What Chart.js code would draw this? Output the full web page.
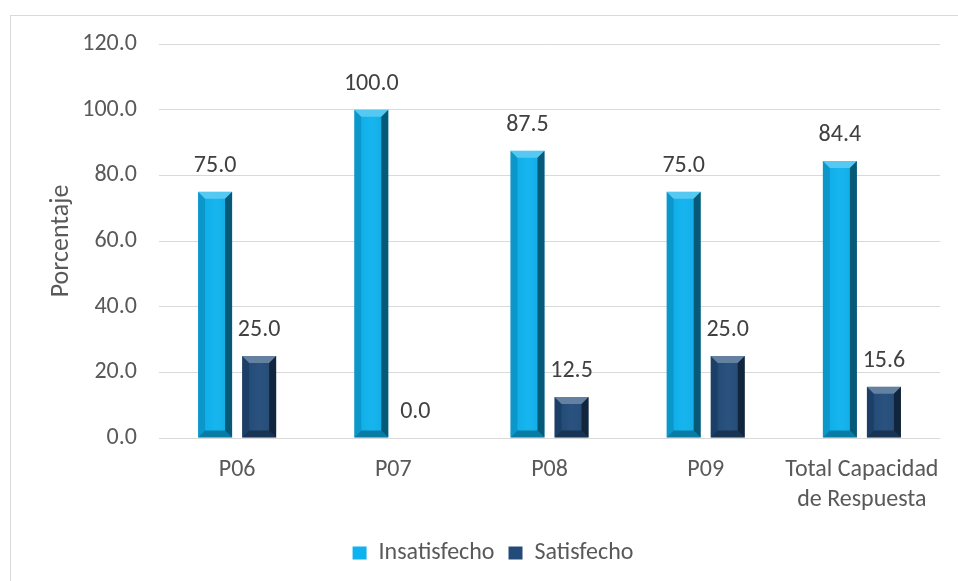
<!DOCTYPE html>
<html>
<head>
<meta charset="utf-8">
<script src="https://cdn.jsdelivr.net/npm/chart.js@4.4.1/dist/chart.umd.min.js"></script>
<style>
    html, body { margin: 0; padding: 0; background: #fff; }
    #wrap { position: relative; width: 958px; height: 581px; overflow: hidden; }
    #frame { position: absolute; left: 10px; top: 15px; width: 980px; height: 600px; border: 1px solid #d9d9d9; }
    canvas { position: absolute; left: 0; top: 0; }
</style>
</head>
<body>
<div id="wrap">
    <div id="frame"></div>
    <canvas id="chart" width="958" height="581"></canvas>
</div>
<script>
// Données du graphique
const categories = ['P06', 'P07', 'P08', 'P09', ['Total Capacidad', 'de Respuesta']];
const insatisfecho = [75.0, 100.0, 87.5, 75.0, 84.4];
const satisfecho = [25.0, 0.0, 12.5, 25.0, 15.6];
const yTicks = [0, 20, 40, 60, 80, 100, 120];

const FONT = 'Carlito, Calibri, "Open Sans", sans-serif';
const TEXT = '#595959';

// Effet biseauté sur les barres
const bevelPlugin = {
    id: 'bevel',
    afterDatasetsDraw(chart) {
        const ctx = chart.ctx;
        chart.data.datasets.forEach((ds, i) => {
            chart.getDatasetMeta(i).data.forEach(bar => {
                const l = bar.x - bar.width / 2;
                const r = bar.x + bar.width / 2;
                const t = Math.min(bar.y, bar.base);
                const b = Math.max(bar.y, bar.base);
                if (b - t < 2) return;
                const s = Math.min(7, (b - t) / 2);
                ctx.save();
                // face
                const g = ctx.createLinearGradient(l, 0, r, 0);
                g.addColorStop(0, 'rgba(0,0,0,0.04)');
                g.addColorStop(0.5, 'rgba(255,255,255,0.04)');
                g.addColorStop(1, 'rgba(0,0,0,0.08)');
                ctx.fillStyle = g;
                ctx.fillRect(l + s, t + s, r - l - 2 * s, b - t - 2 * s);
                // haut
                ctx.fillStyle = 'rgba(255,255,255,0.3)';
                ctx.beginPath();
                ctx.moveTo(l, t); ctx.lineTo(r, t); ctx.lineTo(r - s, t + s); ctx.lineTo(l + s, t + s);
                ctx.closePath(); ctx.fill();
                // droite
                ctx.fillStyle = 'rgba(0,0,0,0.5)';
                ctx.beginPath();
                ctx.moveTo(r, t); ctx.lineTo(r, b); ctx.lineTo(r - s, b - s); ctx.lineTo(r - s, t + s);
                ctx.closePath(); ctx.fill();
                // bas
                ctx.fillStyle = 'rgba(0,0,0,0.3)';
                ctx.beginPath();
                ctx.moveTo(l, b); ctx.lineTo(r, b); ctx.lineTo(r - s, b - s); ctx.lineTo(l + s, b - s);
                ctx.closePath(); ctx.fill();
                // gauche
                ctx.fillStyle = 'rgba(0,0,0,0.15)';
                ctx.beginPath();
                ctx.moveTo(l, t); ctx.lineTo(l, b); ctx.lineTo(l + s, b - s); ctx.lineTo(l + s, t + s);
                ctx.closePath(); ctx.fill();
                ctx.restore();
            });
        });
    }
};

// Étiquettes de valeurs
const valueLabels = {
    id: 'valueLabels',
    afterDatasetsDraw(chart) {
        const ctx = chart.ctx;
        ctx.save();
        ctx.font = '24px ' + FONT;
        ctx.fillStyle = '#404040';
        ctx.textAlign = 'center';
        ctx.textBaseline = 'middle';
        chart.data.datasets.forEach((ds, i) => {
            chart.getDatasetMeta(i).data.forEach((bar, j) => {
                ctx.fillText(ds.data[j].toFixed(1), bar.x, bar.y - 26);
            });
        });
        ctx.restore();
    }
};

new Chart(document.getElementById('chart'), {
    type: 'bar',
    data: {
        labels: categories,
        datasets: [{
            label: 'Insatisfecho',
            data: insatisfecho,
            backgroundColor: '#0db2ee',
            categoryPercentage: 0.564,
            barPercentage: 0.773
        }, {
            label: 'Satisfecho',
            data: satisfecho,
            backgroundColor: '#224b79',
            categoryPercentage: 0.564,
            barPercentage: 0.773
        }]
    },
    options: {
        responsive: false,
        animation: false,
        layout: { padding: { left: 46, right: 18, top: 44, bottom: 6 } },
        plugins: {
            legend: {
                position: 'bottom',
                labels: {
                    font: { family: FONT, size: 24 },
                    color: TEXT,
                    boxWidth: 14,
                    boxHeight: 13,
                    padding: 14
                }
            },
            tooltip: { enabled: false }
        },
        scales: {
            x: {
                grid: { display: false },
                border: { display: false },
                ticks: {
                    font: { family: FONT, size: 24, lineHeight: 1.25 },
                    color: TEXT,
                    padding: 9,
                    maxRotation: 0,
                    minRotation: 0,
                    autoSkip: false
                },
                afterFit(scale) { scale.height = 89; }
            },
            y: {
                min: 0,
                max: 120,
                afterBuildTicks(scale) { scale.ticks = yTicks.map(v => ({ value: v })); },
                ticks: {
                    font: { family: FONT, size: 24 },
                    color: TEXT,
                    padding: 22,
                    callback: v => v.toFixed(1)
                },
                grid: { color: '#d9d9d9', drawTicks: false },
                border: { display: false },
                title: {
                    display: true,
                    text: 'Porcentaje',
                    font: { family: FONT, size: 26 },
                    color: TEXT,
                    padding: 0
                },
                afterFit(scale) { scale.width = 113; }
            }
        }
    },
    plugins: [bevelPlugin, valueLabels]
});
</script>
</body>
</html>
